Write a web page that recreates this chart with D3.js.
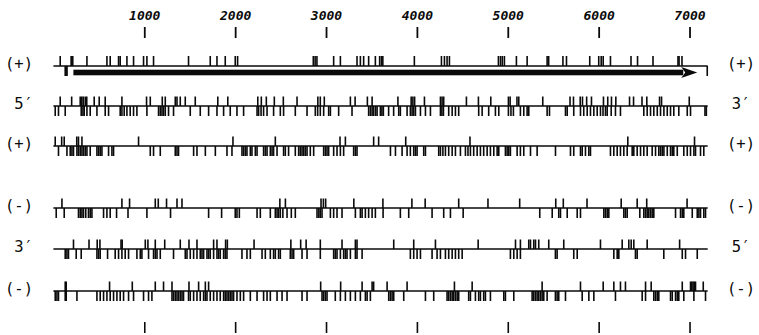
<!DOCTYPE html>
<html>
<head>
<meta charset="utf-8">
<script src="https://cdn.jsdelivr.net/npm/d3@7"></script>
<style>
  body { margin: 0; background: #fff; }
  svg { display: block; }
</style>
</head>
<body>
<script>
// sequence length (bp) and the scale ticks
const seqLength = 7200;
const axisTicks = [1000, 2000, 3000, 4000, 5000, 6000, 7000];

// open reading frame drawn as an arrow under frame 1
const orf = [220, 7085];

// labels left / right of each frame
const leftLabels  = ["(+)", "5′", "(+)", "(-)", "3′", "(-)"];
const rightLabels = ["(+)", "3′", "(+)", "(-)", "5′", "(-)"];

// marks above (up) and below (down) each frame line, positions in bp
const f1Up = [75, 195, 204, 213, 369, 589, 625, 717, 735, 809, 882, 992, 1029, 1102, 1487, 1726, 1800, 1891, 2001, 2027,
  2860, 2880, 2900, 3084, 3158, 3341, 3378, 3414, 3469, 3543, 3590, 3610, 3625, 3972, 4270, 4303, 4332, 4358,
  4897, 4920, 4940, 4963, 5095, 5213, 5433, 5450, 5607, 5646, 5902, 6001, 6028, 6050, 6130, 6356, 6428, 6598,
  6873, 6885, 6917];
const f1Down = [130, 140, 150, 7195];

const f2Up = [75, 201, 295, 312, 328, 350, 367, 449, 504, 570, 754, 1025, 1066, 1198, 1231, 1341, 1360, 1396, 1451,
  1561, 1809, 1919, 2249, 2288, 2343, 2431, 2530, 2681, 2910, 2937, 2981, 3268, 3320, 3455, 3507, 3791, 3937,
  3956, 3975, 4083, 4259, 4277, 4295, 4545, 4677, 4813, 5007, 5026, 5101, 5121, 5385, 5685, 5723, 5797, 5822,
  5868, 5921, 6053, 6100, 6141, 6189, 6340, 6384, 6477, 6530, 6670, 6692, 6997];
const f2Down = [20, 56, 130, 306, 325, 339, 369, 405, 479, 570, 607, 735, 754, 779, 809, 845, 882, 919, 1029, 1157,
  1176, 1195, 1212, 1231, 1267, 1322, 1506, 1616, 1708, 1800, 1873, 1946, 2020, 2093, 2241, 2258, 2285, 2313,
  2351, 2423, 2497, 2533, 2662, 2791, 2882, 2908, 2937, 2974, 3029, 3048, 3139, 3286, 3469, 3488, 3507, 3524,
  3545, 3562, 3598, 3615, 3631, 3689, 3744, 3800, 3818, 3892, 3928, 3947, 3965, 3984, 4039, 4094, 4149, 4259,
  4275, 4292, 4350, 4388, 4424, 4460, 4680, 4718, 4790, 4864, 4901, 5007, 5035, 5062, 5139, 5176, 5213, 5231,
  5433, 5459, 5635, 5654, 5726, 5800, 5836, 5874, 5910, 5947, 5984, 6020, 6048, 6075, 6094, 6138, 6185, 6240,
  6497, 6534, 6571, 6607, 6645, 6681, 6718, 6755, 6791, 6827, 6882, 6975, 7011, 7170, 7185];

const f3Up = [20, 91, 119, 257, 276, 314, 937, 1976, 2442, 3154, 3213, 3524, 3579, 3877, 4584, 6321, 7055];
const f3Down = [56, 149, 185, 204, 221, 259, 276, 295, 314, 331, 350, 369, 405, 479, 497, 515, 534, 607, 644, 662,
  1066, 1102, 1176, 1341, 1360, 1377, 1543, 1580, 1672, 1782, 1910, 1965, 2075, 2093, 2112, 2130, 2167, 2185,
  2222, 2241, 2313, 2332, 2351, 2387, 2406, 2423, 2461, 2533, 2552, 2588, 2662, 2699, 2717, 2736, 2754, 2772,
  2791, 2827, 2864, 2974, 2993, 3011, 3029, 3084, 3121, 3158, 3194, 3304, 3323, 3341, 3709, 3764, 3837, 3892,
  3928, 3965, 3984, 4002, 4075, 4094, 4240, 4259, 4286, 4314, 4350, 4388, 4424, 4479, 4534, 4562, 4589, 4625,
  4663, 4699, 4735, 4773, 4809, 4846, 4883, 4901, 4974, 4993, 5011, 5029, 5103, 5139, 5176, 5250, 5323, 5525,
  5690, 5726, 5800, 5819, 5855, 5892, 5910, 6130, 6167, 6204, 6240, 6277, 6314, 6369, 6387, 6424, 6461, 6497,
  6534, 6589, 6626, 6662, 6681, 6700, 6718, 6755, 6791, 6810, 6827, 6865, 6937, 6975, 7011, 7048, 7066, 7121, 7157];

const f4Up = [94, 754, 838, 1121, 1154, 1245, 1360, 1415, 2492, 2553, 2945, 2971, 2996, 3306, 3626, 3945, 4091,
  4460, 4782, 5131, 5528, 5611, 5872, 6248, 6424, 6529, 6973];
const f4Down = [31, 119, 276, 295, 314, 331, 356, 386, 405, 424, 552, 589, 625, 695, 821, 1029, 1289, 1708, 1851,
  2001, 2020, 2046, 2241, 2277, 2387, 2442, 2461, 2478, 2497, 2525, 2571, 2618, 2662, 2901, 2921, 2937, 2956,
  3048, 3084, 3121, 3176, 3323, 3378, 3397, 3433, 3469, 3507, 3543, 3628, 3818, 3910, 4167, 4295, 4369, 4509,
  5352, 5489, 5561, 5580, 5654, 5764, 5800, 6057, 6075, 6094, 6112, 6277, 6295, 6314, 6453, 6497, 6516, 6534,
  6552, 6571, 6589, 6607, 6846, 6901, 6920, 6937, 7030, 7085, 7103, 7121, 7157, 7176];

const f5Up = [221, 392, 482, 512, 744, 757, 1011, 1040, 1121, 1225, 1396, 1492, 1580, 1763, 1800, 1895, 1914, 2208,
  2613, 2721, 2781, 2937, 3176, 3323, 3341, 3745, 3965, 4204, 4674, 5085, 5139, 5231, 5250, 5286, 5305, 5341,
  5451, 5616, 6020, 6259, 6332, 6358, 6387, 6534, 6891];
const f5Down = [130, 149, 166, 251, 306, 479, 497, 515, 596, 680, 717, 754, 790, 827, 919, 956, 974, 1047, 1102,
  1121, 1140, 1176, 1322, 1451, 1470, 1506, 1543, 1580, 1616, 1635, 1653, 1690, 1708, 1726, 1763, 1800, 1818,
  1836, 1873, 1891, 1910, 2075, 2130, 2167, 2296, 2332, 2387, 2423, 2442, 2478, 2497, 2607, 2626, 2644, 2736,
  2791, 2937, 3084, 3102, 3121, 3158, 3194, 3213, 3231, 3268, 3323, 3341, 3397, 3928, 3965, 4002, 4039, 4167,
  4222, 4259, 4314, 4350, 4388, 4424, 4460, 4498, 5029, 5066, 5103, 5139, 5524, 5543, 5726, 5764, 6167, 6204,
  6222, 6405, 6424, 6717, 6920, 6956, 7085];

const f6Up = [130, 141, 618, 868, 1121, 1212, 1305, 1492, 1598, 1672, 1708, 2941, 3161, 3397, 3507, 3524, 3672,
  3892, 4413, 4608, 5378, 5800, 6050, 6167, 6240, 6295, 6516, 6578, 6920, 7011, 7025, 7039, 7052, 7066, 7151];
const f6Down = [20, 39, 56, 130, 141, 259, 479, 515, 552, 589, 625, 662, 699, 735, 772, 827, 882, 992, 1047, 1084,
  1305, 1322, 1341, 1360, 1377, 1396, 1415, 1432, 1487, 1506, 1543, 1580, 1616, 1653, 1672, 1690, 1726, 1763,
  1800, 1836, 1873, 1891, 1910, 1928, 1946, 1965, 1983, 2020, 2057, 2093, 2167, 2241, 2313, 2351, 2387, 2461,
  2516, 2571, 2736, 2791, 2956, 2974, 2993, 3011, 3102, 3158, 3213, 3268, 3323, 3378, 3433, 3452, 3488, 3690,
  3708, 3727, 3745, 3855, 4094, 4185, 4332, 4350, 4369, 4388, 4405, 4424, 4443, 4460, 4570, 4589, 4644, 4680,
  4699, 4735, 4754, 4809, 4956, 4974, 5066, 5268, 5286, 5305, 5323, 5341, 5360, 5378, 5396, 5433, 5524, 5543,
  5561, 5635, 5819, 5892, 5947, 6185, 6479, 6516, 6607, 6626, 6645, 6662, 6791, 6810, 6846, 6865, 6882, 6937,
  7048, 7176];

const frames = [[f1Up, f1Down], [f2Up, f2Down], [f3Up, f3Down], [f4Up, f4Down], [f5Up, f5Down], [f6Up, f6Down]];

// layout
const width = 759, height = 335;
const rowY = [66, 106, 146, 208, 249, 291];
const ink = "#0a0a0a";
const labelFont = "'DejaVu Sans Mono', monospace";

const x = d3.scaleLinear().domain([0, seqLength]).range([53.4, 707.7]);

const svg = d3.select("body").append("svg")
    .attr("width", width)
    .attr("height", height);

// scale on top, with numbers
svg.append("g")
    .attr("transform", "translate(0,38)")
    .call(d3.axisTop(x).tickValues(axisTicks).tickSize(11).tickPadding(7).tickFormat(d3.format("d")))
    .attr("font-family", labelFont)
    .attr("font-size", 13)
    .attr("font-weight", "bold")
    .attr("font-style", "italic")
    .call(g => g.select(".domain").remove())
    .call(g => g.selectAll(".tick line").attr("stroke", ink).attr("stroke-width", 1.8))
    .call(g => g.selectAll(".tick text").attr("fill", ink));

// scale at the bottom, ticks only
svg.append("g")
    .attr("transform", "translate(0,322)")
    .call(d3.axisBottom(x).tickValues(axisTicks).tickSize(11).tickFormat(""))
    .call(g => g.select(".domain").remove())
    .call(g => g.selectAll(".tick line").attr("stroke", ink).attr("stroke-width", 1.6));

frames.forEach(function (f, i) {
    let y = rowY[i];
    let g = svg.append("g");

    g.append("line")
        .attr("x1", x(0)).attr("x2", x(seqLength))
        .attr("y1", y).attr("y2", y)
        .attr("stroke", ink)
        .attr("stroke-width", 1.7);

    let upLen = i === 0 ? 10 : 9.5;
    let downLen = 10;

    g.selectAll(".up")
        .data(f[0])
        .enter()
        .append("line")
        .attr("class", "up")
        .attr("x1", d => x(d)).attr("x2", d => x(d))
        .attr("y1", y).attr("y2", y - upLen)
        .attr("stroke", ink)
        .attr("stroke-width", 1.6);

    g.selectAll(".down")
        .data(f[1])
        .enter()
        .append("line")
        .attr("class", "down")
        .attr("x1", d => x(d)).attr("x2", d => x(d))
        .attr("y1", y).attr("y2", y + downLen)
        .attr("stroke", ink)
        .attr("stroke-width", 1.6);

    g.append("text")
        .attr("x", 33)
        .attr("y", y + 3)
        .attr("text-anchor", "end")
        .attr("font-family", labelFont)
        .attr("font-size", 15.5)
        .attr("fill", ink)
        .text(leftLabels[i]);

    g.append("text")
        .attr("x", 741)
        .attr("y", y + 3)
        .attr("text-anchor", "middle")
        .attr("font-family", labelFont)
        .attr("font-size", 15.5)
        .attr("fill", ink)
        .text(rightLabels[i]);
});

// ORF arrow under frame 1
const arrowY = 72.5, headLen = 16;
const tip = x(orf[1]);
svg.append("rect")
    .attr("x", x(orf[0]))
    .attr("y", arrowY - 2.8)
    .attr("width", tip - headLen + 2 - x(orf[0]))
    .attr("height", 5.6)
    .attr("fill", ink);
svg.append("path")
    .attr("d", "M" + (tip - headLen) + "," + (arrowY - 5.5) + "L" + tip + "," + arrowY +
        "L" + (tip - headLen) + "," + (arrowY + 5.5) + "L" + (tip - headLen + 4) + "," + arrowY + "Z")
    .attr("fill", ink);
</script>
</body>
</html>
